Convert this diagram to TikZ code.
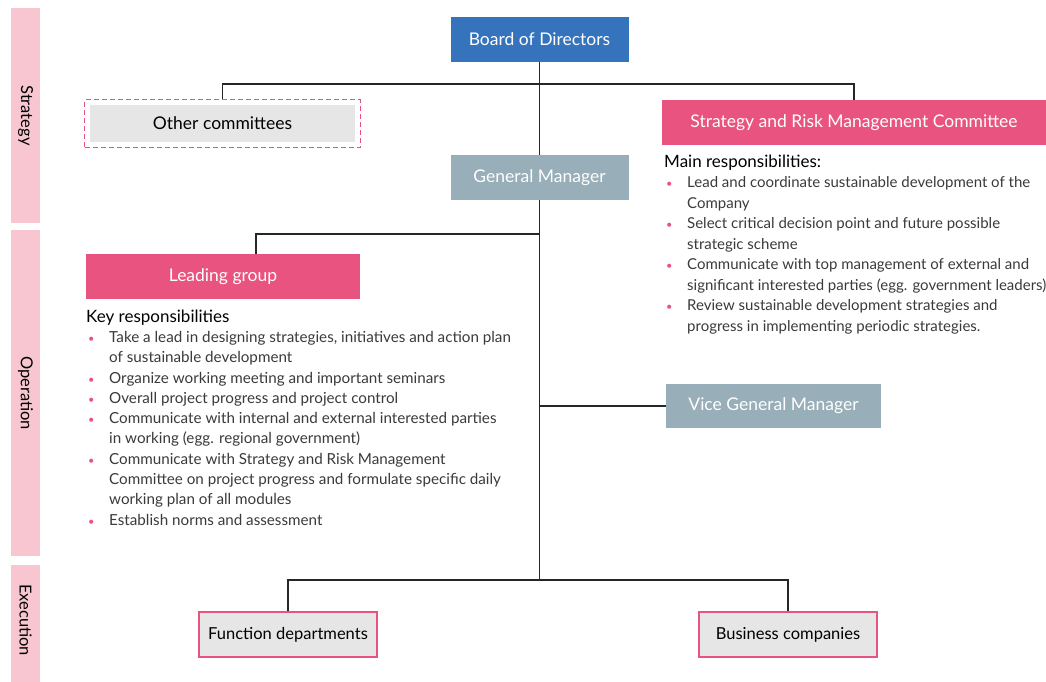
\documentclass[tikz,border=0pt]{standalone}
\usepackage{fontspec}
\setmainfont{Lato}
\usetikzlibrary{fit}
\definecolor{boardblue}{HTML}{3574BC}
\definecolor{hotpink}{HTML}{E8537F}
\definecolor{slate}{HTML}{98AEB8}
\definecolor{bandpink}{HTML}{F7C6D1}
\definecolor{lightgrey}{HTML}{E6E6E6}
\definecolor{txtgrey}{HTML}{3A3A3A}
\newcommand{\pbul}{\textcolor{hotpink}{\fontsize{11}{20}\selectfont\textbullet}}
\tikzset{
  box/.style={minimum width=178pt, minimum height=45pt, inner sep=0pt, font=\fontsize{17.5}{20}\selectfont},
  bluebox/.style={box, fill=boardblue, text=white},
  slatebox/.style={box, fill=slate, text=white},
  pinkbox/.style={box, fill=hotpink, text=white},
  greybox/.style={box, fill=lightgrey, text=black},
  execbox/.style={box, fill=lightgrey, draw=hotpink, line width=1.3pt, text=black, font=\fontsize{16.5}{20}\selectfont},
  bandlabel/.style={rotate=-90, font=\fontsize{16.5}{18}\selectfont, text=black},
  conn/.style={draw=black!85, line width=1.2pt},
  listnode/.style={anchor=north west, inner sep=0pt, align=left, text=txtgrey},
  heading/.style={anchor=west, inner sep=0pt, font=\fontsize{17}{20}\selectfont, text=black}
}
\begin{document}
\begin{tikzpicture}[x=1pt,y=-1pt]
\useasboundingbox (0,0) rectangle (1046,682);
% side bands
\fill[bandpink] (11,8) rectangle (40,223);
\fill[bandpink] (11,230) rectangle (40,556);
\fill[bandpink] (11,565) rectangle (40,682);
\node[bandlabel] (lstrat) at (25.5,115.5) {Strategy};
\node[bandlabel] (loper) at (25.5,393) {Operation};
\node[bandlabel] (lexec) at (25.5,620) {Execution};
% boxes
\node[bluebox] (board) at (539.5,39.5) {Board of Directors};
\node[slatebox] (gm) at (539.5,177.5) {General Manager};
\node[pinkbox, minimum width=384pt] (srmc) at (854,122.5) {Strategy and Risk Management Committee};
\node[greybox, minimum width=265pt, minimum height=37pt] (oc) at (222.5,123.5) {Other committees};
\node[fit=(oc), inner sep=5pt, draw=hotpink, dash pattern=on 5pt off 3pt, line width=1.3pt] (ocf) {};
\node[pinkbox, minimum width=274pt] (lg) at (223,276.5) {Leading group};
\node[slatebox, minimum width=215pt, minimum height=44pt] (vgm) at (773.5,406) {Vice General Manager};
\node[execbox] (fd) at (288,634.5) {Function departments};
\node[execbox] (bc) at (788,634.5) {Business companies};
% junctions
\coordinate (j1) at (539.5,84);
\coordinate (j2) at (539.5,234);
\coordinate (jb) at (539.5,580);
% connectors
\draw[conn] (board.south) -- (gm.north);
\draw[conn] (ocf.north) |- (j1) -| (srmc.north);
\draw[conn] ([xshift=33pt]lg.north) |- (j2);
\draw[conn] (gm.south) -- (jb);
\draw[conn] (vgm.west) -- (vgm.west -| jb);
\draw[conn] (fd.north) |- (jb) -| (bc.north);
% right list
\node[heading] (mrh) at (664,163) {Main responsibilities:};
\node[listnode] (mrl) at (664,173) {\fontsize{15}{20.5}\selectfont
\begin{tabular}{@{}p{23pt}@{}l@{}}
\hspace{2pt}\pbul & Lead and coordinate sustainable development of the\\
 & Company\\
\hspace{2pt}\pbul & Select critical decision point and future possible\\
 & strategic scheme\\
\hspace{2pt}\pbul & Communicate with top management of external and\\
 & significant interested parties (egg. government leaders)\\
\hspace{2pt}\pbul & Review sustainable development strategies and\\
 & progress in implementing periodic strategies.
\end{tabular}};
% left list
\node[heading] (krh) at (86,318) {Key responsibilities};
\node[listnode] (krl) at (86,328) {\fontsize{15.2}{20.3}\selectfont
\begin{tabular}{@{}p{23pt}@{}l@{}}
\hspace{2pt}\pbul & Take a lead in designing strategies, initiatives and action plan\\
 & of sustainable development\\
\hspace{2pt}\pbul & Organize working meeting and important seminars\\
\hspace{2pt}\pbul & Overall project progress and project control\\
\hspace{2pt}\pbul & Communicate with internal and external interested parties\\
 & in working (egg. regional government)\\
\hspace{2pt}\pbul & Communicate with Strategy and Risk Management\\
 & Committee on project progress and formulate specific daily\\
 & working plan of all modules\\
\hspace{2pt}\pbul & Establish norms and assessment
\end{tabular}};
\end{tikzpicture}
\end{document}
